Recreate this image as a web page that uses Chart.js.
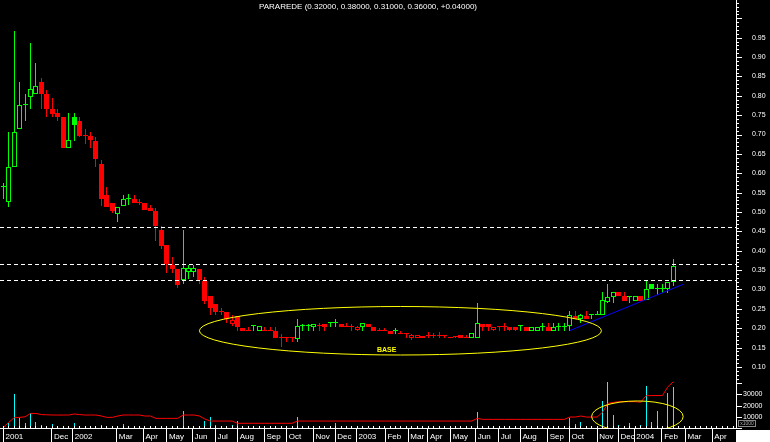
<!DOCTYPE html>
<html>
<head>
<meta charset="utf-8">
<title>PARAREDE</title>
<script src="https://cdn.jsdelivr.net/npm/chart.js@4.4.1/dist/chart.umd.min.js"></script>
<style>
    html, body { margin: 0; padding: 0; background: #000; }
    canvas { display: block; }
</style>
</head>
<body>
<canvas id="priceChart" width="770" height="442"></canvas>
<script>
// weekly bars, Oct 2001 - Feb 2004 (index = week number)
const opens = [
    0.564, 0.525, 0.615, 0.715, 0.775, 0.796, 0.805, 0.836, 0.805, 0.766,
    0.755, 0.745, 0.666, 0.745, 0.735, 0.695, 0.695, 0.684, 0.625, 0.544,
    0.523, 0.495, 0.515, 0.534, 0.533, 0.524, 0.523, 0.511, 0.503, 0.454,
    0.415, 0.363, 0.353, 0.325, 0.345, 0.345, 0.353, 0.322, 0.283, 0.262,
    0.243, 0.242, 0.212, 0.231, 0.201, 0.194, 0.206, 0.194, 0.194, 0.194,
    0.194, 0.176, 0.175, 0.175, 0.173, 0.206, 0.207, 0.204, 0.206, 0.210,
    0.213, 0.214, 0.210, 0.204, 0.204, 0.196, 0.204, 0.210, 0.204, 0.194,
    0.194, 0.194, 0.194, 0.184, 0.184, 0.176, 0.176, 0.176, 0.180, 0.180,
    0.179, 0.179, 0.176, 0.177, 0.182, 0.176, 0.174, 0.174, 0.210, 0.210,
    0.196, 0.203, 0.202, 0.204, 0.204, 0.206, 0.203, 0.194, 0.194, 0.204,
    0.2025, 0.194, 0.204, 0.204, 0.206, 0.232, 0.224, 0.232, 0.233, 0.233,
    0.233, 0.268, 0.2815, 0.293, 0.283, 0.2815, 0.270, 0.2833, 0.272, 0.314,
    0.302, 0.302, 0.302, 0.32
];
const highs = [
    0.575, 0.707, 0.967, 0.836, 0.805, 0.936, 0.885, 0.846, 0.815, 0.794,
    0.766, 0.745, 0.756, 0.756, 0.745, 0.714, 0.707, 0.694, 0.634, 0.565,
    0.523, 0.514, 0.544, 0.546, 0.543, 0.534, 0.523, 0.517, 0.511, 0.465,
    0.415, 0.384, 0.353, 0.454, 0.363, 0.363, 0.353, 0.331, 0.283, 0.262,
    0.253, 0.242, 0.233, 0.231, 0.201, 0.204, 0.206, 0.207, 0.204, 0.204,
    0.204, 0.185, 0.175, 0.175, 0.224, 0.211, 0.212, 0.212, 0.213, 0.210,
    0.213, 0.223, 0.211, 0.214, 0.210, 0.205, 0.213, 0.210, 0.204, 0.2015,
    0.2015, 0.194, 0.2015, 0.194, 0.184, 0.184, 0.183, 0.181, 0.191, 0.187,
    0.191, 0.179, 0.178, 0.177, 0.182, 0.182, 0.187, 0.264, 0.210, 0.210,
    0.204, 0.203, 0.213, 0.204, 0.204, 0.206, 0.203, 0.204, 0.204, 0.213,
    0.213, 0.213, 0.213, 0.214, 0.244, 0.245, 0.238, 0.245, 0.233, 0.245,
    0.294, 0.314, 0.293, 0.293, 0.293, 0.2815, 0.2833, 0.2833, 0.325, 0.314,
    0.314, 0.314, 0.320, 0.38
];
const lows = [
    0.534, 0.514, 0.615, 0.715, 0.736, 0.767, 0.805, 0.766, 0.745, 0.745,
    0.736, 0.666, 0.666, 0.684, 0.694, 0.676, 0.666, 0.617, 0.516, 0.514,
    0.497, 0.474, 0.515, 0.517, 0.524, 0.517, 0.504, 0.504, 0.426, 0.404,
    0.343, 0.343, 0.305, 0.314, 0.327, 0.333, 0.314, 0.262, 0.235, 0.235,
    0.235, 0.214, 0.205, 0.194, 0.194, 0.194, 0.194, 0.194, 0.194, 0.194,
    0.176, 0.152, 0.164, 0.164, 0.164, 0.194, 0.194, 0.194, 0.194, 0.194,
    0.204, 0.204, 0.204, 0.204, 0.194, 0.194, 0.194, 0.204, 0.194, 0.194,
    0.194, 0.184, 0.184, 0.184, 0.174, 0.170, 0.176, 0.176, 0.176, 0.176,
    0.176, 0.174, 0.176, 0.174, 0.176, 0.176, 0.174, 0.174, 0.194, 0.194,
    0.194, 0.194, 0.194, 0.194, 0.194, 0.194, 0.194, 0.194, 0.194, 0.194,
    0.194, 0.194, 0.194, 0.194, 0.194, 0.224, 0.214, 0.224, 0.224, 0.233,
    0.233, 0.264, 0.264, 0.282, 0.270, 0.264, 0.270, 0.270, 0.272, 0.302,
    0.286, 0.292, 0.292, 0.31
];
const closes = [
    0.564, 0.615, 0.706, 0.775, 0.775, 0.817, 0.826, 0.805, 0.765, 0.754,
    0.744, 0.666, 0.685, 0.725, 0.695, 0.695, 0.685, 0.636, 0.534, 0.514,
    0.503, 0.514, 0.534, 0.534, 0.524, 0.524, 0.504, 0.503, 0.465, 0.413,
    0.365, 0.353, 0.312, 0.355, 0.355, 0.355, 0.325, 0.271, 0.253, 0.243,
    0.243, 0.225, 0.222, 0.204, 0.194, 0.194, 0.206, 0.207, 0.194, 0.194,
    0.176, 0.176, 0.175, 0.175, 0.205, 0.206, 0.207, 0.212, 0.206, 0.204,
    0.213, 0.214, 0.204, 0.204, 0.204, 0.203, 0.213, 0.204, 0.194, 0.194,
    0.194, 0.184, 0.194, 0.184, 0.184, 0.183, 0.182, 0.181, 0.180, 0.180,
    0.179, 0.179, 0.178, 0.177, 0.176, 0.176, 0.187, 0.213, 0.204, 0.204,
    0.203, 0.203, 0.202, 0.196, 0.196, 0.206, 0.194, 0.204, 0.204, 0.204,
    0.194, 0.204, 0.204, 0.204, 0.233, 0.224, 0.233, 0.224, 0.233, 0.233,
    0.272, 0.2815, 0.293, 0.282, 0.270, 0.2815, 0.2833, 0.270, 0.300, 0.302,
    0.302, 0.302, 0.320, 0.36
];

// weekly volume and its moving average
const volumes = [
    500, 4700, 30400, 9200, 4200, 13100, 5600, 2700, 1200, 3300,
    800, 800, 1800, 4200, 1200, 2100, 300, 1200, 3000, 1200,
    1200, 1200, 3900, 1200, 800, 300, 800, 2100, 2100, 2100,
    2100, 300, 800, 15200, 1800, 800, 800, 6200, 9800, 2700,
    800, 800, 2700, 6200, 500, 500, 500, 300, 300, 500,
    500, 500, 300, 300, 9800, 800, 300, 300, 300, 300,
    300, 4700, 300, 300, 300, 300, 300, 300, 300, 300,
    300, 300, 300, 300, 300, 800, 300, 300, 300, 800,
    300, 300, 300, 300, 300, 300, 300, 14600, 500, 800,
    300, 300, 300, 800, 300, 300, 300, 300, 300, 2000,
    300, 300, 800, 300, 9200, 3600, 5000, 800, 300, 300,
    24100, 41300, 11600, 2700, 800, 4500, 300, 2700, 37800, 5400,
    15200, 1800, 31000, 36900
];
const volumeAvg = [
    500, 5000, 9200, 9500, 10000, 13000, 13000, 12000, 11800, 11600,
    11600, 11600, 11600, 12500, 12000, 11600, 11600, 11600, 10700, 9500,
    9500, 10700, 11600, 11600, 11600, 11600, 10700, 10700, 8600, 8600,
    8600, 8600, 8600, 11600, 11600, 11600, 10700, 8000, 6200, 6200,
    6200, 6200, 6200, 4200, 4200, 4200, 4200, 4200, 4200, 4200,
    4200, 4200, 4200, 4200, 6200, 6200, 6200, 6200, 6200, 6200,
    6200, 6200, 6200, 6200, 6200, 6200, 6200, 6200, 6200, 6200,
    6200, 6200, 6200, 6200, 6200, 6200, 6200, 6200, 6200, 6200,
    6200, 6200, 6200, 6200, 6200, 6200, 6200, 8600, 7700, 7700,
    7700, 7700, 7700, 7700, 7700, 7700, 7700, 7700, 7700, 7700,
    7700, 7700, 7700, 7700, 9800, 9800, 10700, 9800, 9800, 9800,
    14000, 22000, 22900, 23500, 23500, 23500, 23500, 23000, 28800, 29000,
    29000, 29000, 36900, 41300
];

// month labels along the bottom and the week where each one starts
const monthLabels = ['2001', 'Dec', '2002', 'Mar', 'Apr', 'May', 'Jun', 'Jul', 'Aug', 'Sep', 'Oct', 'Nov', 'Dec',
    '2003', 'Feb', 'Mar', 'Apr', 'May', 'Jun', 'Jul', 'Aug', 'Sep', 'Oct', 'Nov', 'Dec', '2004', 'Feb', 'Mar', 'Apr'];
const monthWeeks = [0, 8.9, 12.7, 20.8, 25.7, 30, 34.7, 38.9, 43, 47.9, 52, 56.9, 60.9,
    64.8, 70.1, 74.3, 77.9, 82.1, 86.7, 90.9, 94.9, 99.9, 103.9, 109, 112.9, 115.8, 120.9, 125.2, 130.1];

// right hand axis labels
const priceTicks = ['0.10', '0.15', '0.20', '0.25', '0.30', '0.35', '0.40', '0.45', '0.50',
    '0.55', '0.60', '0.65', '0.70', '0.75', '0.80', '0.85', '0.90', '0.95'];
const volumeTicks = ['10000', '20000', '30000'];

// resistance levels and the rising support line
const levels = [0.46, 0.365, 0.323];
const trendWeeks = [104, 124.8];
const trendPrices = [0.194, 0.3134];

// "base" ellipses: centre week, half width (weeks), centre value, half height
const baseEllipse = [72.9, 36.9, 0.1935, 0.0626];
const volumeEllipse = [116.4, 8.4, 10300, 13850];
const baseLabel = ['BASE', 68.6, 0.1446];

// axis ranges
const weekMin = -0.606, weekMax = 134.5;
const priceMin = 0.0638, priceMax = 1.0473;
const volumeMax = 42000;

const GREEN = '#00ff00';
const RED = '#ff0000';
const FONT = '"Liberation Sans", Arial, sans-serif';
Chart.defaults.font.family = FONT;

// candle colour: green above previous close, red below, unchanged when equal
const candleColors = [];
closes.forEach((c, i) => {
    if (i === 0 || c > closes[i - 1]) candleColors.push(GREEN);
    else if (c < closes[i - 1]) candleColors.push(RED);
    else candleColors.push(candleColors[i - 1]);
});
// filled body when it closed below the open, hollow otherwise
const bodyFills = closes.map((c, i) => c < opens[i] ? candleColors[i] : '#000');
const weeks = closes.map((_, i) => i);

const last = closes.length - 1;
const fmt = v => v.toFixed(5);
const change = closes[last] - closes[last - 1];
const titleText = 'PARAREDE (' + [opens[last], highs[last], lows[last], closes[last]].map(fmt).join(', ') +
    ', ' + (change >= 0 ? '+' : '') + fmt(change) + ')';

// scale sizing: fixed axis widths and no extra label padding around the plot
const fitRight = s => { s.width = 34; s.paddingTop = 0; s.paddingBottom = 0; };
const fitBottom = s => { s.height = 14; s.paddingLeft = 0; s.paddingRight = 0; };

// extra drawing: pixel snapping, ellipses, text and axis tick marks
const overlayPlugin = {
    id: 'overlay',
    beforeDatasetsDraw(chart) {
        chart.data.datasets.forEach((ds, i) => {
            const meta = chart.getDatasetMeta(i);
            if (meta.type === 'bar') {
                meta.data.forEach(el => {
                    el.x = Math.floor(el.x) + 0.5;
                    el.y = Math.round(el.y);
                    el.base = Math.round(el.base);
                    if (el.y === el.base) el.y = el.base - 1;
                });
            } else if (ds.snapY) {
                meta.data.forEach(pt => { pt.y = Math.floor(pt.y) + 0.5; });
            }
        });
    },
    afterDraw(chart) {
        const { ctx, chartArea } = chart;
        const xs = chart.scales.x, ys = chart.scales.y, yv = chart.scales.yv;
        ctx.save();

        // title
        ctx.fillStyle = '#fff';
        ctx.font = '8px ' + FONT;
        ctx.textAlign = 'center';
        ctx.textBaseline = 'middle';
        ctx.fillText(titleText, (chartArea.left + chartArea.right) / 2, 7);

        // ellipses
        ctx.strokeStyle = '#ffff00';
        ctx.lineWidth = 1;
        const drawEllipse = (e, yScale) => {
            const cx = xs.getPixelForValue(e[0]);
            const rx = xs.getPixelForValue(e[0] + e[1]) - cx;
            const cy = yScale.getPixelForValue(e[2]);
            const ry = cy - yScale.getPixelForValue(e[2] + e[3]);
            ctx.beginPath();
            ctx.ellipse(cx, cy, rx, ry, 0, 0, Math.PI * 2);
            ctx.stroke();
        };
        ctx.save();
        ctx.beginPath();
        ctx.rect(chartArea.left, chartArea.top, chartArea.width, chartArea.height);
        ctx.clip();
        drawEllipse(baseEllipse, ys);
        drawEllipse(volumeEllipse, yv);
        ctx.restore();

        ctx.fillStyle = '#ffff00';
        ctx.font = 'bold 7px ' + FONT;
        ctx.textAlign = 'left';
        ctx.fillText(baseLabel[0], xs.getPixelForValue(baseLabel[1]), ys.getPixelForValue(baseLabel[2]));

        // right axis tick marks
        ctx.strokeStyle = '#fff';
        const ax = chartArea.right;
        for (let k = Math.ceil(ys.min * 100); k <= Math.floor(ys.max * 100); k++) {
            const py = Math.round(ys.getPixelForValue(k / 100)) + 0.5;
            ctx.beginPath();
            ctx.moveTo(ax, py);
            ctx.lineTo(ax + (k % 5 === 0 ? 6 : 3), py);
            ctx.stroke();
        }
        for (let v = 0; v <= 40000; v += 10000) {
            const py = Math.round(yv.getPixelForValue(v)) + 0.5;
            ctx.beginPath();
            ctx.moveTo(ax, py);
            ctx.lineTo(ax + 6, py);
            ctx.stroke();
        }

        // weekly ticks and month separators on the time axis
        const bottom = chartArea.bottom;
        for (let n = 0; n <= Math.floor(xs.max); n++) {
            const px = Math.floor(xs.getPixelForValue(n)) + 0.5;
            ctx.beginPath();
            ctx.moveTo(px, bottom - 2);
            ctx.lineTo(px, bottom);
            ctx.stroke();
        }
        monthWeeks.forEach(w => {
            const px = Math.floor(xs.getPixelForValue(w)) + 0.5;
            ctx.beginPath();
            ctx.moveTo(px, bottom);
            ctx.lineTo(px, chart.height);
            ctx.stroke();
        });

        // volume multiplier box and corner patch
        ctx.strokeStyle = '#888';
        ctx.strokeRect(ax + 2.5, bottom - 7.5, 17, 6);
        ctx.fillStyle = '#aaa';
        ctx.font = '5px ' + FONT;
        ctx.textAlign = 'center';
        ctx.fillText('x1000', ax + 11, bottom - 4.5);
        ctx.fillStyle = '#fff';
        ctx.fillRect(ax, bottom + 2, chart.width - ax, chart.height - bottom - 2);

        ctx.restore();
    }
};

const ctx = document.getElementById('priceChart').getContext('2d');
const priceChart = new Chart(ctx, {
    type: 'bar',
    data: {
        datasets: [
            {
                type: 'line',
                data: weeks.map(i => ({ x: i, y: volumeAvg[i] })),
                yAxisID: 'yv',
                borderColor: RED,
                borderWidth: 1,
                pointRadius: 0,
                order: 0
            },
            ...levels.map(lv => ({
                type: 'line',
                data: [{ x: weekMin, y: lv }, { x: weekMax, y: lv }],
                yAxisID: 'y',
                borderColor: '#fff',
                borderWidth: 1,
                borderDash: [4, 3],
                pointRadius: 0,
                snapY: true,
                order: 0
            })),
            {
                type: 'line',
                data: trendWeeks.map((w, i) => ({ x: w, y: trendPrices[i] })),
                yAxisID: 'y',
                borderColor: '#0000ff',
                borderWidth: 1,
                pointRadius: 0,
                order: 0
            },
            {
                // candle bodies
                data: weeks.map(i => ({ x: i, y: [opens[i], closes[i]] })),
                yAxisID: 'y',
                backgroundColor: bodyFills,
                borderColor: candleColors,
                borderWidth: 1,
                borderSkipped: false,
                barThickness: 5,
                minBarLength: 1,
                grouped: false,
                inflateAmount: 0,
                order: 1
            },
            {
                // wicks
                data: weeks.map(i => ({ x: i, y: [lows[i], highs[i]] })),
                yAxisID: 'y',
                backgroundColor: candleColors,
                borderWidth: 0,
                barThickness: 1,
                grouped: false,
                inflateAmount: 0,
                order: 2
            },
            {
                // volume
                data: weeks.map(i => ({ x: i, y: volumes[i] })),
                yAxisID: 'yv',
                backgroundColor: '#00ffff',
                borderWidth: 0,
                barThickness: 1,
                grouped: false,
                inflateAmount: 0,
                order: 3
            }
        ]
    },
    options: {
        responsive: false,
        animation: false,
        devicePixelRatio: 1,
        layout: { padding: 0 },
        plugins: {
            legend: { display: false },
            tooltip: { enabled: false }
        },
        scales: {
            x: {
                type: 'linear',
                position: 'bottom',
                min: weekMin,
                max: weekMax,
                offset: false,
                grid: { display: false, drawTicks: false, offset: false },
                border: { display: true, color: '#fff', width: 1 },
                ticks: {
                    color: '#fff',
                    font: { size: 8 },
                    padding: 4,
                    autoSkip: false,
                    maxRotation: 0,
                    align: 'start',
                    callback: (v, i) => ' ' + monthLabels[i]
                },
                afterBuildTicks: s => { s.ticks = monthWeeks.map(w => ({ value: w })); },
                afterFit: fitBottom
            },
            y: {
                type: 'linear',
                position: 'right',
                stack: 'right',
                stackWeight: 381,
                min: priceMin,
                max: priceMax,
                grid: { display: false, drawTicks: true, tickLength: 16 },
                border: { display: true, color: '#fff', width: 1 },
                ticks: {
                    color: '#fff',
                    font: { size: 7 },
                    padding: 0,
                    autoSkip: false,
                    callback: (v, i) => priceTicks[i]
                },
                afterBuildTicks: s => { s.ticks = priceTicks.map(t => ({ value: parseFloat(t) })); },
                afterFit: fitRight
            },
            yv: {
                type: 'linear',
                position: 'right',
                stack: 'right',
                stackWeight: 47,
                min: 0,
                max: volumeMax,
                grid: { display: false, drawTicks: true, tickLength: 7 },
                border: { display: true, color: '#fff', width: 1 },
                ticks: {
                    color: '#fff',
                    font: { size: 7 },
                    padding: 0,
                    autoSkip: false,
                    callback: (v, i) => volumeTicks[i]
                },
                afterBuildTicks: s => { s.ticks = volumeTicks.map(t => ({ value: parseFloat(t) })); },
                afterFit: fitRight
            }
        }
    },
    plugins: [overlayPlugin]
});
</script>
</body>
</html>
